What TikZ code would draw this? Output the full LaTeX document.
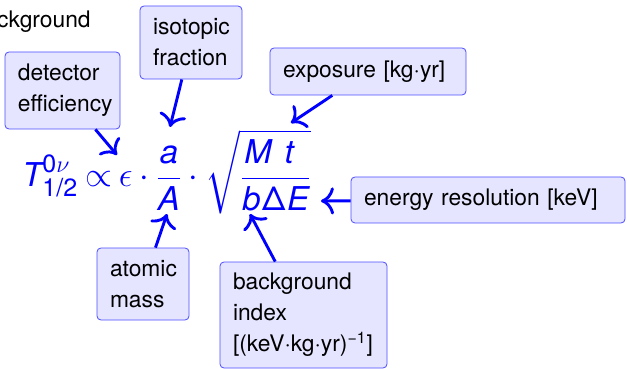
\documentclass[tikz,border=0pt]{standalone}
\usepackage{amsmath}
\usepackage{fontspec}
\setmainfont{TeX Gyre Heros}
\usepackage{tikz}
\usetikzlibrary{arrows.meta}

\DeclareMathSizes{16.4}{16.4}{12.5}{10}
\newcommand{\vi}[1]{\text{\itshape #1}}

\tikzset{
  note/.style={draw=blue!70, fill=blue!10, rounded corners=2pt, align=left,
    inner xsep=6.5pt, inner ysep=0pt, font=\fontsize{11.4}{15.5}\selectfont},
  pointer/.style={-{To[scale=1.35]}, blue, line width=1.45pt},
}

\begin{document}
\begin{tikzpicture}[x=0.5pt, y=-0.5pt]
  \useasboundingbox (0,0) rectangle (627,369);
  \node[anchor=base east, inner sep=0, font=\fontsize{11.4}{15.5}\selectfont] (head) at (91,28) {ckground};

  % Formula
  \node[anchor=base west, inner sep=0, blue, font=\fontsize{16.4}{20}\selectfont] (law) at (22,187)
    {$\thickmuskip=3.6mu \medmuskip=3.5mu
      \displaystyle \vi{T}^{\text{0}\nu}_{\text{1/2}} \propto \epsilon\cdot\frac{\vi{a}}{\vi{A}}\cdot
      \sqrt{\frac{\vi{M}\hspace{0.4em}\vi{t}\hspace{0.4em}}{\vi{b}\hspace{0.05em}\text{Δ}\hspace{0.05em}\vi{E}}}$};

  % Labels
  \node[note, text width=44.5pt, minimum height=38.5pt] (eff) at (62.5,90.5) {detector\\efficiency};
  \node[note, text width=38pt, minimum height=36.5pt] (iso) at (191,42.5) {isotopic\\fraction};
  \node[note, text width=85pt, minimum height=23.5pt] (expo) at (368,71.5) {exposure [kg·yr]};
  \node[note, text width=124pt, minimum height=23pt] (res) at (488,200) {energy resolution [keV]};
  \node[note, text width=33pt, minimum height=36pt] (mass) at (143,284) {atomic\\mass};
  \node[note, text width=70.5pt, minimum height=53pt] (bkg) at (303.5,315)
    {background\\index\\{[}(keV·kg·yr)\textsuperscript{−1}]};

  % Tips
  \coordinate (effTip) at (117,155);
  \coordinate (isoTip) at (170,127);
  \coordinate (expoTip) at (291,123);
  \coordinate (resTip) at (321,201);
  \coordinate (massTip) at (167,214);
  \coordinate (bkgTip) at (250,214);

  % Pointers
  \draw[pointer] (eff) -- (effTip);
  \draw[pointer] (iso) -- (isoTip);
  \draw[pointer] (expo) -- (expoTip);
  \draw[pointer] (res) -- (resTip);
  \draw[pointer] (mass) -- (massTip);
  \draw[pointer] (bkg) -- (bkgTip);
\end{tikzpicture}
\end{document}
